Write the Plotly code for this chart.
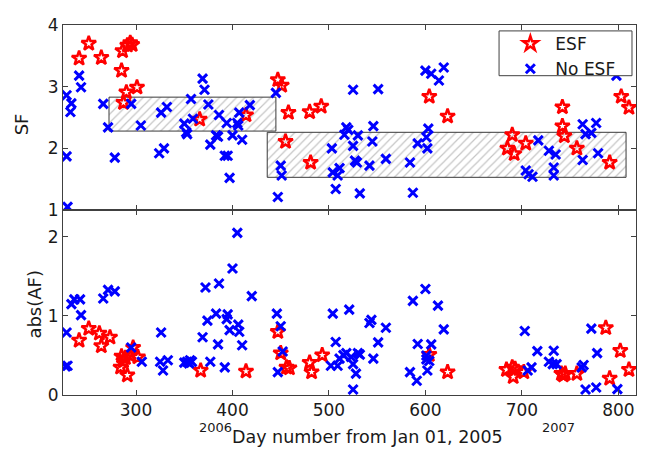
import plotly.graph_objects as go

# ---------------- data ----------------
# ESF events: SF (top panel)
esf_day_sf = [241, 251, 264, 286, 291, 294, 296, 285, 290, 287, 301, 366, 414, 447, 451, 458,
              455, 480, 492, 481, 604, 623, 690, 685, 692, 704, 742, 742, 744, 757, 791, 803, 811]
esf_sf = [3.46, 3.70, 3.47, 3.58, 3.67, 3.71, 3.68, 3.26, 2.91, 2.74, 2.99, 2.47, 2.54, 3.11, 3.02, 2.58,
          2.11, 2.59, 2.68, 1.77, 2.84, 2.52, 2.22, 2.00, 1.91, 2.08, 2.67, 2.36, 2.20, 2.00, 1.77, 2.84, 2.66]

# ESF events: abs(AF) (bottom panel)
esf_day_af = [241, 251, 262, 264, 273, 284, 285, 287, 289, 291, 294, 297, 302, 367, 414, 447, 450,
              456, 459, 480, 482, 493, 604, 623, 684, 690, 691, 693, 702, 741, 743, 745, 757,
              787, 791, 802, 811]
esf_af = [0.69, 0.84, 0.78, 0.62, 0.73, 0.35, 0.49, 0.43, 0.47, 0.25, 0.50, 0.60, 0.48, 0.31, 0.30, 0.80, 0.53,
          0.35, 0.34, 0.41, 0.29, 0.505, 0.51, 0.29, 0.32, 0.35, 0.23, 0.33, 0.29, 0.27, 0.25, 0.27, 0.27,
          0.85, 0.21, 0.56, 0.32]

# No-ESF events: SF (top panel)
noesf_day_sf = [228, 233, 232, 241, 243, 228, 229, 266, 271, 278, 295, 305, 326, 332, 324, 329,
                350, 352, 353, 357, 359, 369, 371, 375, 377, 383, 385, 386, 392, 395, 394, 397,
                400, 405, 407, 406, 410, 418, 445, 450, 451, 447, 503, 504, 509, 511, 507, 516,
                518, 520, 530, 525, 525, 527, 529, 532, 542, 545, 546, 551, 559, 584, 587, 592,
                600, 606, 614, 619, 601, 603, 602, 704, 707, 711, 717, 728, 735, 733, 733, 763,
                766, 772, 777, 763, 779, 798]
noesf_sf = [2.86, 2.73, 2.59, 3.18, 2.99, 1.87, 1.05, 2.72, 2.34, 1.85, 2.72, 2.37, 2.58, 2.67, 1.92, 2.00,
            2.40, 2.26, 2.23, 2.80, 2.48, 3.13, 2.95, 2.71, 2.06, 2.21, 2.19, 2.54, 1.88, 1.88, 2.41, 1.52,
            2.21, 2.41, 2.58, 2.37, 2.14, 2.70, 2.90, 1.72, 1.56, 1.21, 2.00, 1.61, 1.56, 1.68, 1.34, 2.22,
            2.34, 2.30, 2.21, 2.95, 2.04, 1.80, 1.77, 1.27, 1.72, 2.11, 2.36, 2.96, 1.83, 1.77, 1.28, 2.08,
            3.26, 3.21, 3.10, 3.31, 2.18, 2.32, 2.00, 1.64, 1.58, 1.54, 2.13, 1.96, 1.90, 1.69, 1.56, 2.39,
            2.23, 2.25, 2.41, 1.81, 1.92, 3.18]

# No-ESF events: abs(AF) (bottom panel)
noesf_day_af = [228, 227, 229, 233, 236, 242, 243, 266, 271, 278, 295, 306, 326, 325, 328, 333,
                350, 353, 355, 356, 358, 369, 372, 374, 377, 385, 383, 386, 392, 394, 395, 397,
                400, 405, 406, 407, 410, 420, 446, 450, 447, 452, 504, 521, 507, 502, 509, 511,
                515, 518, 523, 525, 528, 525, 530, 532, 542, 544, 546, 551, 559, 584, 587, 591,
                592, 600, 601, 601, 602, 604, 606, 613, 619, 703, 706, 710, 716, 728, 733, 732,
                736, 762, 764, 772, 766, 777, 778, 799]
noesf_af = [0.79, 0.36, 0.37, 1.15, 1.21, 1.21, 1.01, 1.22, 1.33, 1.31, 0.60, 0.42, 0.79, 0.42, 0.31, 0.44,
            0.41, 0.42, 0.40, 0.44, 0.42, 0.73, 1.36, 0.94, 0.42, 0.64, 1.03, 1.41, 0.35, 0.96, 1.02, 0.82,
            1.60, 2.05, 0.89, 0.80, 0.63, 1.25, 1.03, 0.87, 0.29, 0.55, 1.03, 1.08, 0.67, 0.37, 0.37, 0.46,
            0.505, 0.53, 0.48, 0.39, 0.27, 0.07, 0.53, 0.51, 0.91, 0.95, 0.46, 0.665, 0.85, 0.29, 1.19, 0.18,
            0.645, 1.34, 0.50, 0.45, 0.31, 0.43, 0.64, 1.13, 0.83, 0.81, 0.31, 0.35, 0.555, 0.42, 0.56, 0.39,
            0.39, 0.35, 0.38, 0.84, 0.07, 0.095, 0.53, 0.074]

# hatched regions in SF panel: [day_start, day_end, sf_low, sf_high]
region1 = [272, 445, 2.28, 2.83]
region2 = [436, 808, 1.53, 2.26]

x_ticks = [300, 400, 500, 600, 700, 800]
sf_ticks = [1, 2, 3, 4]
af_ticks = [0, 1, 2]
year_labels = ["2006", "2007"]
year_days = [382, 738]

# ---------------- figure ----------------
FONT = "DejaVu Sans"
AXC = "#404040"
fig = go.Figure()

for reg in (region1, region2):
    x0, x1, y0, y1 = reg
    fig.add_trace(go.Scatter(
        x=[x0, x1, x1, x0, x0], y=[y0, y0, y1, y1, y0], mode="lines",
        line=dict(color="#3a3a3a", width=1), fill="toself",
        fillcolor="rgba(0,0,0,0)",
        fillpattern=dict(shape="/", fgcolor="#8c8c8c", bgcolor="white", size=6, solidity=0.2),
        showlegend=False, hoverinfo="skip", xaxis="x", yaxis="y"))

star = dict(symbol="star-open", size=11, color="red", line=dict(color="red", width=2.5))
cross = dict(symbol="x-thin-open", size=9, color="blue", line=dict(color="blue", width=3))

fig.add_trace(go.Scatter(x=esf_day_sf, y=esf_sf, mode="markers", marker=star, name="ESF",
                         legendgroup="esf", xaxis="x", yaxis="y"))
fig.add_trace(go.Scatter(x=noesf_day_sf, y=noesf_sf, mode="markers", marker=cross, name="No ESF",
                         legendgroup="no", xaxis="x", yaxis="y"))
fig.add_trace(go.Scatter(x=esf_day_af, y=esf_af, mode="markers", marker=star, name="ESF",
                         legendgroup="esf", showlegend=False, xaxis="x2", yaxis="y2"))
fig.add_trace(go.Scatter(x=noesf_day_af, y=noesf_af, mode="markers", marker=cross, name="No ESF",
                         legendgroup="no", showlegend=False, xaxis="x2", yaxis="y2"))

xrange = [224.3, 818.3]
common_ax = dict(showline=True, linecolor=AXC, linewidth=1, mirror="ticks", ticks="inside",
                 ticklen=5, tickcolor=AXC, showgrid=False, zeroline=False,
                 ticklabeloverflow="allow",
                 tickfont=dict(family=FONT, size=17, color="#1a1a1a"))

# page body has an 8px margin: figure is sized so the plot lands where intended
fig.update_layout(
    width=638, height=446,
    margin=dict(l=55, r=10, t=7, b=59),
    paper_bgcolor="white", plot_bgcolor="white",
    font=dict(family=FONT, size=17, color="#1a1a1a"),
    xaxis=dict(range=xrange, domain=[0, 1], anchor="y", tickvals=x_ticks, showticklabels=False, **common_ax),
    yaxis=dict(range=[1, 4], domain=[0.5, 1], anchor="x", tickvals=sf_ticks, **common_ax),
    xaxis2=dict(range=xrange, domain=[0, 1], anchor="y2", tickvals=x_ticks, matches="x", **common_ax),
    yaxis2=dict(range=[0, 2.34], domain=[0, 0.5], anchor="x2", tickvals=af_ticks, **common_ax),
    legend=dict(x=0.772, y=0.997, xanchor="left", yanchor="top", bgcolor="rgba(0,0,0,0)",
                borderwidth=0, font=dict(family=FONT, size=17), tracegroupgap=0,
                itemsizing="trace", itemwidth=40),
    showlegend=True,
)

# legend box (opaque, above the data like the original)
fig.add_shape(type="rect", xref="paper", yref="paper", x0=0.761, x1=0.993, y0=0.863, y1=0.984,
              line=dict(color=AXC, width=1), fillcolor="white", layer="above")

annots = [
    dict(text="SF", x=-0.0733, y=0.7316, textangle=-90, size=18),
    dict(text="abs(AF)", x=-0.0489, y=0.247, textangle=-90, size=18),
    dict(text="Day number from Jan 01, 2005", x=0.532, y=-0.113, textangle=0, size=17.5),
]
for a in annots:
    fig.add_annotation(xref="paper", yref="paper", showarrow=False, xanchor="center",
                       yanchor="middle", font=dict(family=FONT, size=a["size"], color="#1a1a1a"),
                       text=a["text"], x=a["x"], y=a["y"], textangle=a["textangle"])
for lbl, d in zip(year_labels, year_days):
    fig.add_annotation(xref="x2", yref="paper", x=d, y=-0.087, text=lbl, showarrow=False,
                       xanchor="center", yanchor="middle", font=dict(family=FONT, size=13, color="#1a1a1a"))

fig.write_html("out.html")
